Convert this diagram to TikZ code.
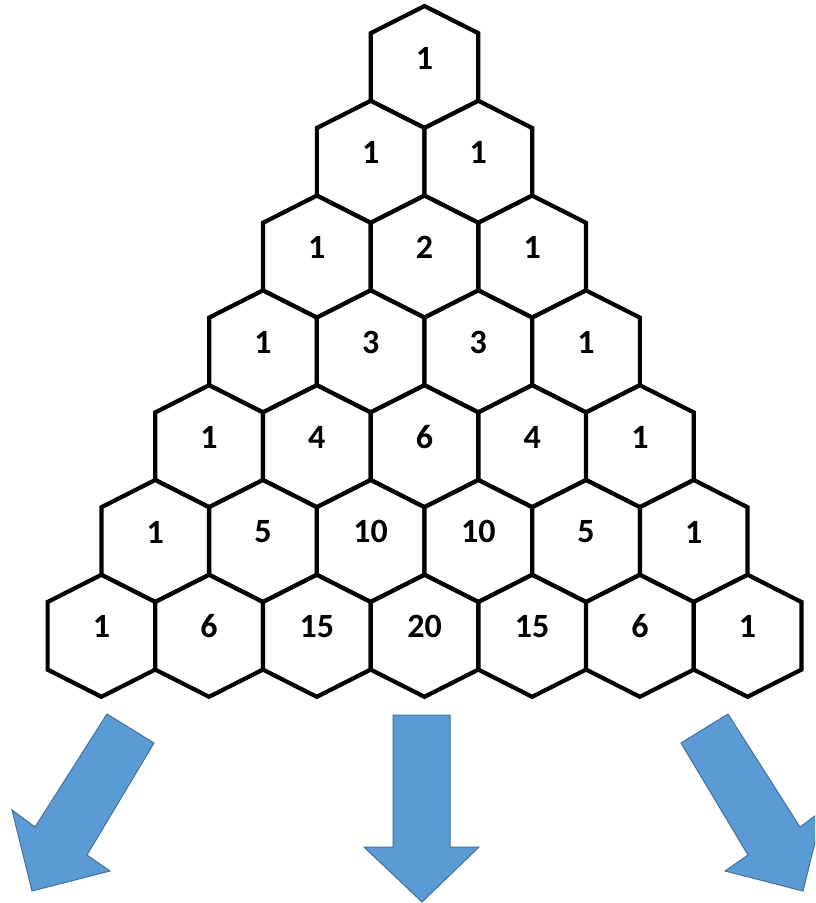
\documentclass[tikz,border=0pt]{standalone}
\usepackage{fontspec}
\setmainfont{Carlito}
\definecolor{arrowfill}{HTML}{5B9BD5}
\definecolor{arrowline}{HTML}{41719C}
\tikzset{
  hexline/.style={draw=black, line width=4.2pt, fill=white, line join=miter},
  hexlabel/.style={font=\fontsize{34}{34}\selectfont\bfseries, inner sep=0pt},
  bigarrow/.style={fill=arrowfill, draw=arrowline, line width=1pt, line join=miter}
}
\begin{document}
\begin{tikzpicture}[x=1pt,y=-1pt]
\useasboundingbox (0,0) rectangle (815,903);
\clip (0,0) rectangle (815,903);
\def\hw{53.8}
\def\ht{61}
\def\hs{33.8}
\foreach \r/\vals in {0/{1},1/{1,1},2/{1,2,1},3/{1,3,3,1},4/{1,4,6,4,1},5/{1,5,10,10,5,1},6/{1,6,15,20,15,6,1}}{
  \foreach \v [count=\k from 0] in \vals {
    \pgfmathsetmacro{\cx}{424.5+(\k-\r/2)*107.7}
    \pgfmathsetmacro{\cy}{67+\r*94.8}
    \draw[hexline] (\cx,\cy-\ht) -- (\cx+\hw,\cy-\hs) -- (\cx+\hw,\cy+\hs) -- (\cx,\cy+\ht) -- (\cx-\hw,\cy+\hs) -- (\cx-\hw,\cy-\hs) -- cycle;
    \node[hexlabel] (h\r-\k) at (\cx,\cy+2) {\v};
  }
}
% arrows
\draw[bigarrow] (107,714) -- (154,743) -- (87,855) -- (110,871) -- (32,891) -- (12,810) -- (35,827) -- cycle;
\draw[bigarrow] (393,715) -- (450,715) -- (450,847) -- (479,847) -- (422,902) -- (364,847) -- (393,847) -- cycle;
\draw[bigarrow] (728,714) -- (681,743) -- (748,855) -- (725,871) -- (803,891) -- (823,810) -- (800,827) -- cycle;
\end{tikzpicture}
\end{document}
